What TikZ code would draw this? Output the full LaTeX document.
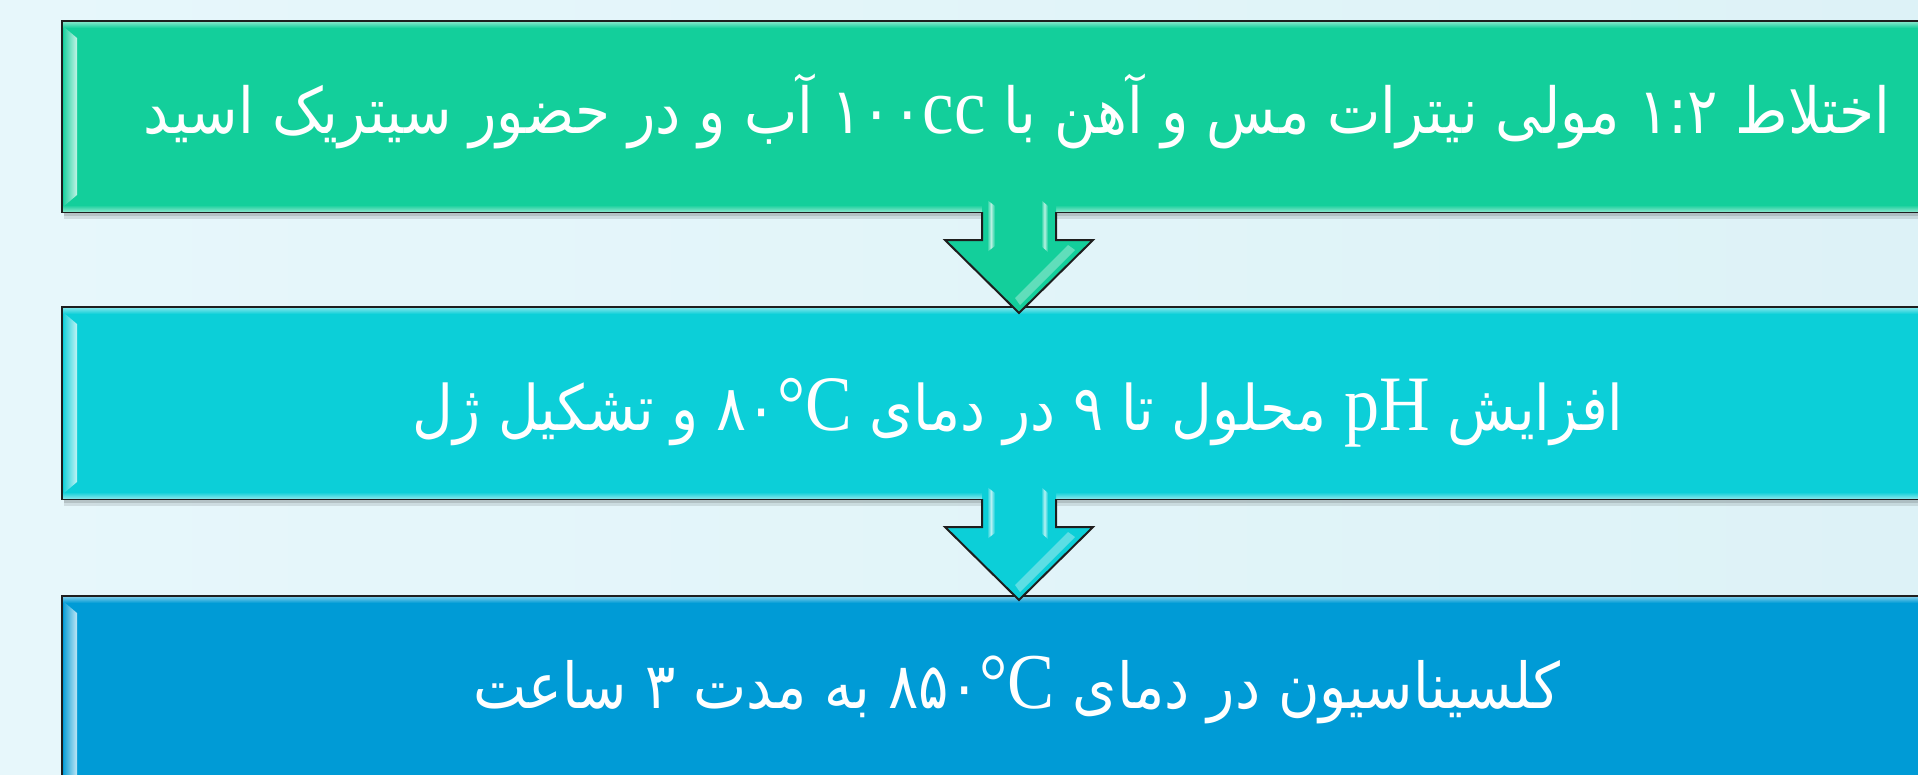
\documentclass[tikz,border=0pt]{standalone}
\usepackage{fontspec}
\usepackage{graphicx}
\usetikzlibrary{calc}
\TeXXeTstate=1
\newfontfamily\arabicfont[Script=Arabic]{DejaVu Sans}
\newfontfamily\latinserif{Liberation Serif}
\newcommand\lat[1]{{\latinserif\fontsize{70}{72}\selectfont #1}}
\newcommand\steplabel[2]{\scalebox{1}[1.12]{\resizebox{#1}{!}{\arabicfont\fontsize{56}{60}\selectfont #2}}}
\definecolor{bgA}{HTML}{E7F7FB}
\definecolor{bgB}{HTML}{DDF2F7}
\definecolor{stepA}{HTML}{13CF9B}
\definecolor{stepB}{HTML}{0CCFD8}
\definecolor{stepC}{HTML}{009BD6}
\definecolor{edge}{HTML}{1E1E1E}

% bevel light on a step box: #1 node name, #2 fill colour
\newcommand\boxbevel[2]{%
  \fill[black,opacity=.10] ($(#1.south west)+(2,1)$) rectangle ($(#1.south east)+(0,7)$);
  \fill[black,opacity=.12] ($(#1.south west)+(2,1)$) rectangle ($(#1.south east)+(0,4)$);
  \shade[top color=#2!55!white, bottom color=#2] ($(#1.north west)+(1,1)$) rectangle ($(#1.north east)+(-1,7)$);
  \shade[top color=#2, bottom color=#2!55!white] ($(#1.south west)+(1,-7)$) rectangle ($(#1.south east)+(-1,-1)$);
  \shade[left color=#2!90!white, right color=#2!25!white]
    ($(#1.north west)+(2,6)$) -- ($(#1.north west)+(15,17)$) --
    ($(#1.south west)+(15,-17)$) -- ($(#1.south west)+(2,-6)$) -- cycle;
}

% block arrow hanging from a box: #1 top centre, #2 tip, #3 colour
\newcommand\flowarrow[3]{%
  \fill[black,opacity=.14,shift={(2,4)}]
    ($(#2)+(-37,-73)$) -- ($(#2)+(-74,-73)$) -- (#2) -- ($(#2)+(74,-73)$) -- ($(#2)+(37,-73)$) -- cycle;
  \fill[#3] ($(#1)+(-37,-8)$) -- ($(#2)+(-37,-73)$) -- ($(#2)+(-74,-73)$) -- (#2) --
    ($(#2)+(74,-73)$) -- ($(#2)+(37,-73)$) -- ($(#1)+(37,-8)$) -- cycle;
  \shade[left color=#3, right color=#3, middle color=#3!30!white]
    ($(#1)+(-32,-12)$) -- ($(#1)+(-24,-6)$) -- ($(#1)+(-24,34)$) -- ($(#1)+(-32,40)$) -- cycle;
  \shade[left color=#3, right color=#3, middle color=#3!30!white]
    ($(#1)+(22,-12)$) -- ($(#1)+(29,-6)$) -- ($(#1)+(29,40)$) -- ($(#1)+(22,34)$) -- cycle;
  \fill[#3!40!white,opacity=.55]
    ($(#2)+(1,-8)$) -- ($(#2)+(56,-63)$) -- ($(#2)+(49,-68)$) -- ($(#2)+(-4,-15)$) -- cycle;
  \draw[arrowline] ($(#1)+(-37,0)$) -- ($(#2)+(-37,-73)$) -- ($(#2)+(-74,-73)$) -- (#2) --
    ($(#2)+(74,-73)$) -- ($(#2)+(37,-73)$) -- ($(#1)+(37,0)$);
}

\begin{document}
\begin{tikzpicture}[x=1pt,y=-1pt,
  stepbox/.style={draw=edge, line width=2pt, minimum width=1890pt, anchor=north west,
    inner sep=0pt, outer sep=0pt},
  steptext/.style={text=white, anchor=base, inner sep=0pt},
  arrowline/.style={draw=edge, line width=2pt, line join=miter},
]
\useasboundingbox (0,0) rectangle (1918,774);
\clip (0,0) rectangle (1918,774);
\shade[left color=bgA, right color=bgB] (0,0) rectangle (1918,774);

% the three process steps
\node[stepbox, fill=stepC, minimum height=200pt] (s3) at (62,596) {};
\boxbevel{s3}{stepC}
\node[stepbox, fill=stepB, minimum height=192pt] (s2) at (62,307) {};
\boxbevel{s2}{stepB}
\node[stepbox, fill=stepA, minimum height=191pt] (s1) at (62,21) {};
\boxbevel{s1}{stepA}

% arrows between the steps
\coordinate (a1top) at ($(s1.south west)+(957,0)$);
\coordinate (a1tip) at ($(s2.north west)+(957,6)$);
\coordinate (a2top) at ($(s2.south west)+(957,0)$);
\coordinate (a2tip) at ($(s3.north west)+(957,4)$);
\flowarrow{a1top}{a1tip}{stepA}
\flowarrow{a2top}{a2tip}{stepB}

% step labels
\node[steptext] (t1) at (1017,133) {\steplabel{1746pt}{%
  \beginR اختلاط \beginL۱:۲\endL{} مولی نیترات مس و آهن با \beginL۱۰۰\lat{cc}\endL{} آب و در حضور سیتریک اسید\endR}};
\node[steptext] (t2) at (1018,430) {\steplabel{1211pt}{%
  \beginR افزایش \beginL\lat{pH}\endL{} محلول تا ۹ در دمای \beginL۸۰\lat{°C}\endL{} و تشکیل ژل\endR}};
\node[steptext] (t3) at (1017,708) {\steplabel{1087pt}{%
  \beginR کلسیناسیون در دمای \beginL۸۵۰\lat{°C}\endL{} به مدت ۳ ساعت\endR}};
\end{tikzpicture}
\end{document}
